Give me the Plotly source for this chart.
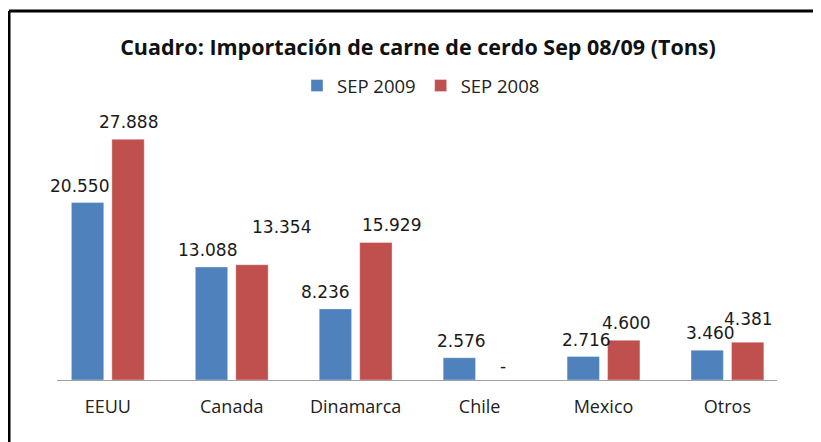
import plotly.graph_objects as go

categories = ["EEUU", "Canada", "Dinamarca", "Chile", "Mexico", "Otros"]
sep_2009 = [20550, 13088, 8236, 2576, 2716, 3460]
sep_2008 = [27888, 13354, 15929, 0, 4600, 4381]
series_names = ["SEP 2009", "SEP 2008"]
title_text = "Cuadro: Importación de carne de cerdo Sep 08/09 (Tons)"

# label nudges (style only): (dx px, gap px above bar top to label centre)
nudge_2009 = [(-8, 17), (-4, 17), (-10, 17), (2, 17), (3, 17), (3, 17)]
nudge_2008 = [(0, 17), (30, 38), (16, 17), (3, 14), (3, 17), (1, 23)]

BLUE = "#4F81BD"
RED = "#C0504D"


def fmt(v):
    return "-" if v == 0 else f"{v:,}".replace(",", ".")


fig = go.Figure()
fig.add_trace(go.Bar(x=categories, y=sep_2009, name=series_names[0],
                     marker=dict(color=BLUE, line=dict(color="rgba(255,255,255,0.35)", width=1))))
fig.add_trace(go.Bar(x=categories, y=sep_2008, name=series_names[1],
                     marker=dict(color=RED, line=dict(color="rgba(255,255,255,0.35)", width=1))))

# page body adds an 8px margin; figure coordinates are page coordinates minus 8
OFF = 8
W, H = 821 - OFF, 442 - OFF
plot_left, plot_right, plot_top, plot_bottom = 57 - OFF, 777 - OFF, 121 - OFF, 380 - OFF
L, R, T, B = plot_left, W - plot_right, plot_top, H - plot_bottom
slot_off = 20.25

annotations = []
for vals, nud, sgn in ((sep_2009, nudge_2009, -1), (sep_2008, nudge_2008, 1)):
    for c, v, (dx, dy) in zip(categories, vals, nud):
        annotations.append(dict(
            x=c, y=v, xref="x", yref="y", text=fmt(v), showarrow=False,
            xanchor="center", yanchor="middle",
            xshift=sgn * slot_off + dx, yshift=dy,
            font=dict(family="DejaVu Sans", size=17, color="#1a1a1a")))

# frame lines (left and top) in paper coordinates
pw, ph = W - L - R, H - T - B
fx = (1.0 - L) / pw
fy = (plot_bottom - 3.0) / ph
fx_end = (W - L) / pw
fy_end = -B / ph
shapes = [
    dict(type="line", xref="paper", yref="paper", x0=fx, x1=fx, y0=fy_end, y1=fy,
         line=dict(color="black", width=3)),
    dict(type="line", xref="paper", yref="paper", x0=fx, x1=fx_end, y0=fy, y1=fy,
         line=dict(color="black", width=3)),
]

fig.update_layout(
    width=W, height=H,
    margin=dict(l=L, r=R, t=T, b=B, autoexpand=False),
    paper_bgcolor="white", plot_bgcolor="white",
    barmode="group", bargap=0.347, bargroupgap=0.2,
    title=dict(text="<b>" + title_text + "</b>", x=(418 - OFF) / W, xanchor="center",
               y=1 - (47 - OFF) / H, yanchor="middle", yref="container",
               font=dict(family="Open Sans", size=21.5, color="#111")),
    legend=dict(orientation="h", x=(419 - OFF) / W, xanchor="center",
                y=1 - (86 - OFF) / H, yref="container",
                yanchor="middle", font=dict(family="Open Sans", size=18.5, color="#222"),
                itemwidth=30, traceorder="normal"),
    showlegend=True,
    xaxis=dict(range=[-0.41, 5.40], showline=True, linecolor="#a0a0a0", linewidth=1,
               ticks="", showgrid=False, zeroline=False, ticklabelstandoff=10,
               tickfont=dict(family="Open Sans", size=18, color="#222")),
    yaxis=dict(range=[0, 30000], visible=False, showgrid=False, zeroline=False),
    annotations=annotations,
    shapes=shapes,
)

fig.write_html("out.html")
